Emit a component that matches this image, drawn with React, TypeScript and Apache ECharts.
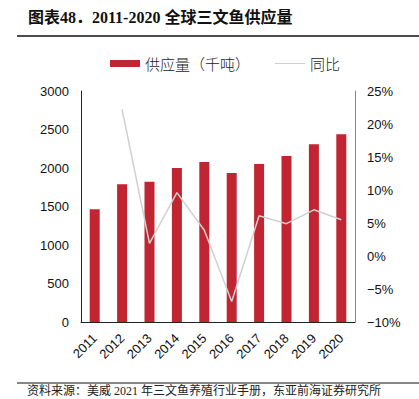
import React, { useEffect, useRef } from "react";
import * as echarts from "echarts";

const years = ["2011", "2012", "2013", "2014", "2015", "2016", "2017", "2018", "2019", "2020"];
const supply = [1465, 1790, 1822, 2000, 2078, 1935, 2052, 2156, 2308, 2437];
const yoy = [null, 22.2, 1.9, 9.6, 3.9, -6.9, 6.1, 4.9, 7.0, 5.5];
const leftTicks = [0, 3000, 500];
const rightTicks = [-10, 25, 5];

export default function App() {
  const ref = useRef<HTMLDivElement>(null);
  useEffect(() => {
    const chart = echarts.init(ref.current!, null, { renderer: "svg" });
    const axisFont = { fontFamily: "Liberation Sans, Arial, sans-serif", fontSize: 13, color: "#111" };
    chart.setOption({
      animation: false,
      backgroundColor: "#fff",
      graphic: [
        {
          type: "text",
          left: 28,
          top: 9,
          style: {
            text: "图表48．2011-2020 全球三文鱼供应量",
            font: "bold 16px 'Liberation Serif', 'Noto Sans CJK SC', serif",
            fill: "#111",
          },
        },
        { type: "line", shape: { x1: 17, y1: 36, x2: 419, y2: 36 }, style: { stroke: "#111", lineWidth: 1.5 } },
        { type: "line", shape: { x1: 17, y1: 383, x2: 419, y2: 383 }, style: { stroke: "#111", lineWidth: 1.2 } },
        {
          type: "text",
          left: 27,
          top: 385,
          style: {
            text: "资料来源：美威 2021 年三文鱼养殖行业手册，东亚前海证券研究所",
            font: "12px 'Liberation Serif', 'Noto Sans CJK SC', serif",
            fill: "#222",
          },
        },
      ],
      legend: {
        top: 51,
        left: 105,
        itemGap: 25,
        itemStyle: { borderWidth: 0 },
        textStyle: { fontFamily: "'Noto Sans CJK SC', sans-serif", fontSize: 15, fontWeight: 300, color: "#222", padding: [0, 0, 0, 0] },
        data: [
          { name: "供应量（千吨）", icon: "rect", itemStyle: { color: "#c12532" } },
          { name: "同比", icon: "path://M0,0L30,0L30,1L0,1Z", itemStyle: { color: "#cfcfcf" } },
        ],
        itemWidth: 30,
        itemHeight: 7,
      },
      grid: { left: 81, right: 64, top: 91, bottom: 77 },
      xAxis: {
        type: "category",
        data: years,
        axisLine: { lineStyle: { color: "#222", width: 1 } },
        axisTick: { show: false },
        axisLabel: { ...axisFont, rotate: 45, margin: 14, interval: 0 },
      },
      yAxis: [
        {
          type: "value",
          min: leftTicks[0],
          max: leftTicks[1],
          interval: leftTicks[2],
          splitLine: { show: false },
          axisLine: { show: true, lineStyle: { color: "#222" } },
          axisTick: { show: false },
          axisLabel: { ...axisFont, margin: 12, formatter: (v: number) => String(v) },
        },
        {
          type: "value",
          min: rightTicks[0],
          max: rightTicks[1],
          interval: rightTicks[2],
          splitLine: { show: false },
          axisLine: { show: true, lineStyle: { color: "#888" } },
          axisTick: { show: false },
          axisLabel: { ...axisFont, margin: 12, formatter: (v: number) => (v < 0 ? "−" + Math.abs(v) : v) + "%" },
        },
      ],
      series: [
        {
          name: "供应量（千吨）",
          type: "bar",
          data: supply,
          barWidth: 10,
          itemStyle: { color: "#c12532" },
        },
        {
          name: "同比",
          type: "line",
          yAxisIndex: 1,
          data: yoy,
          symbol: "none",
          lineStyle: { color: "#d0d0d0", width: 1.5 },
          itemStyle: { color: "#d0d0d0" },
        },
      ],
    });
    return () => chart.dispose();
  }, []);
  return <div ref={ref} style={{ position: "fixed", left: 0, top: 0, width: 419, height: 399 }} />;
}
